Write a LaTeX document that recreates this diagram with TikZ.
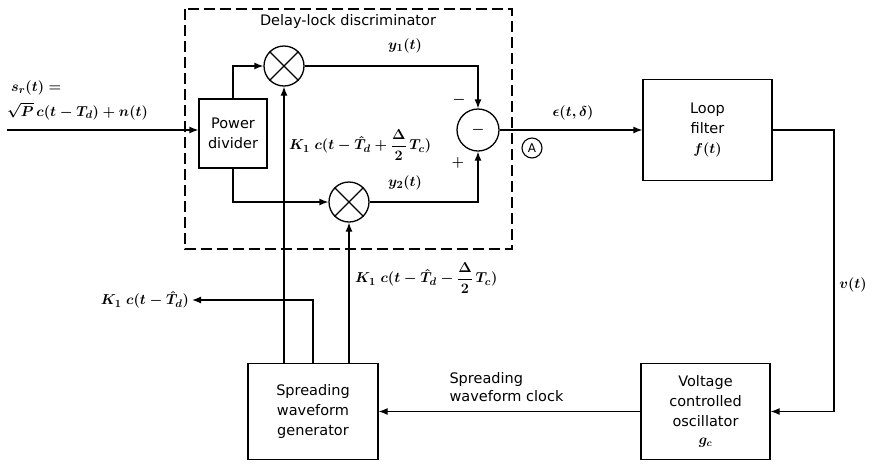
\documentclass[tikz,border=0pt]{standalone}
\usepackage{amsmath}
\usepackage{fontspec}
\setmainfont{DejaVu Sans}
\usetikzlibrary{arrows.meta,calc}
\begin{document}
\begin{tikzpicture}[x=1pt,y=-1pt,
  every node/.style={font=\fontsize{14.5}{20}\selectfont\boldmath},
  blk/.style={draw,line width=1.3pt,align=center,inner sep=0pt},
  mult/.style={draw,circle,line width=1.3pt,minimum size=40pt,inner sep=0pt},
  summ/.style={draw,circle,line width=1.3pt,minimum size=42pt,inner sep=0pt},
  wire/.style={line width=1.3pt},
  arr/.style={wire,-{Latex[length=9pt,width=7pt]}},
  mlab/.style={font=\fontsize{15}{16}\selectfont\boldmath,inner sep=1pt},
  frame/.style={line width=1.1pt,dash pattern=on 11pt off 5pt}]
\useasboundingbox (0,0) rectangle (873,464);
% dashed discriminator frame
\draw[frame] (185,9) rectangle (512,249);
\node (title) at (348,21) {Delay-lock discriminator};
% blocks
\node[blk,minimum width=68pt,minimum height=69pt] (pd) at (233,133.5) {Power\\divider};
\node[mult] (m1) at (284,66) {};
\node[mult] (m2) at (349,202) {};
\node[summ] (s) at (478,130) {$-$};
\node[blk,minimum width=129pt,minimum height=101pt] (lf) at (707.5,130) {Loop\\filter\\$f(t)$};
\node[blk,minimum width=129pt,minimum height=96pt] (vco) at (705.5,411.5) {Voltage\\controlled\\oscillator\\[-2pt]$g_c$};
\node[blk,minimum width=130pt,minimum height=96pt] (gen) at (313,411.5) {Spreading\\waveform\\generator};
% crosses in multipliers
\draw[wire] (m1.north west) -- (m1.south east) (m1.north east) -- (m1.south west);
\draw[wire] (m2.north west) -- (m2.south east) (m2.north east) -- (m2.south west);
% coordinates
\coordinate (in) at (7,130);
\coordinate (rt) at (834,270);
\coordinate (k1) at (192,300);
% connectors
\draw[arr] (in) -- (in -| pd.west);
\draw[arr] (pd.north) |- (m1.west);
\draw[arr] (pd.south) |- (m2.west);
\draw[arr] (m1.east) -| (s.north);
\draw[arr] (m2.east) -| (s.south);
\draw[arr] (s.east) -- (lf.west);
\draw[arr] (lf.east) -| (rt) |- (vco.east);
\draw[arr] (vco.west) -- (gen.east);
\draw[arr] (gen.north -| m1.south) -- (m1.south);
\draw[arr] (gen.north -| m2.south) -- (m2.south);
\draw[arr] (gen.north) |- (k1);
% labels
\node[mlab,anchor=west] (sr) at (10,88) {$s_r(t) =$};
\node[mlab,anchor=west] (sr2) at (6,111) {$\sqrt{P}\,c(t-T_d)+n(t)$};
\node[mlab] (y1) at (405,46) {$y_1(t)$};
\node[mlab] (y2) at (405,183) {$y_2(t)$};
\node[mlab] (mi) at (459,100) {$-$};
\node[mlab] (pl) at (458,163) {$+$};
\node[mlab,anchor=west] (kp) at (288,145) {$K_1\;c(t-\hat{T}_d+\dfrac{\Delta}{2}\,T_c)$};
\node[mlab,anchor=west] (km) at (354,278) {$K_1\;c(t-\hat{T}_d-\dfrac{\Delta}{2}\,T_c)$};
\node[mlab,anchor=east] (k1l) at ([xshift=-2pt]k1) {$K_1\;c(t-\hat{T}_d)$};
\node[mlab] (eps) at (573,113) {$\epsilon(t,\delta)$};
\node[draw,circle,line width=1.1pt,minimum size=20pt,inner sep=0pt,font=\fontsize{12}{12}\selectfont] (A) at (532,148) {A};
\node[mlab] (vt) at (853,285) {$v(t)$};
\node[anchor=west,align=left,font=\fontsize{14.5}{18}\selectfont] (clk) at (446,387) {Spreading\\waveform clock};
\end{tikzpicture}
\end{document}
